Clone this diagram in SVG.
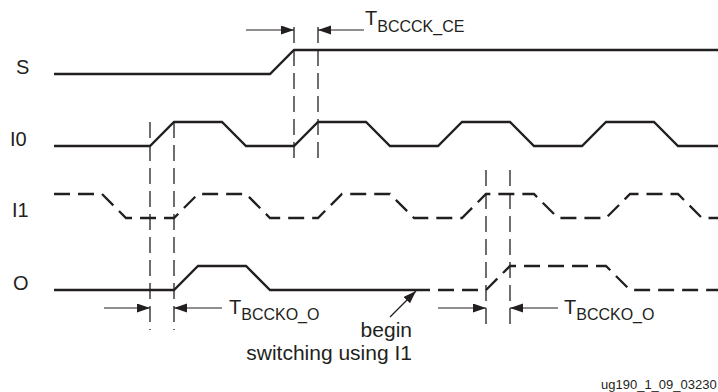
<svg xmlns="http://www.w3.org/2000/svg" width="718" height="392" viewBox="0 0 718 392">
<style>
text{font-family:"Liberation Sans",Arial,sans-serif;fill:#231f20}
.lbl{font-size:20px}
.T{font-size:20px}
.sub{font-size:16px}
.note{font-size:21px}
.sig{fill:none;stroke:#231f20;stroke-width:2.3;stroke-linejoin:miter}
.dsig{fill:none;stroke:#231f20;stroke-width:2.3;stroke-dasharray:16,8}
.vd{fill:none;stroke:#231f20;stroke-width:1.3;stroke-dasharray:16,7}
.arr{fill:none;stroke:#231f20;stroke-width:1.2;marker-end:url(#ah)}
</style>
<defs>
<marker id="ah" markerUnits="userSpaceOnUse" markerWidth="14" markerHeight="10" refX="13" refY="4.5" orient="auto">
<path d="M0,0 L13,4.5 L0,9 Z" fill="#231f20"/>
</marker>
</defs>
<g id="labels">
<text class="lbl" x="16" y="74">S</text>
<text class="lbl" x="10" y="146">I0</text>
<text class="lbl" x="12" y="217">I1</text>
<text class="lbl" x="13" y="290">O</text>
</g>
<g id="signal-S"><polyline class="sig" points="54,74 270,74 294,50 718,50"/></g>
<g id="signal-I0"><polyline class="sig" points="54,146 150,146 174,122 222,122 246,146 294,146 318,122 366,122 390,146 438,146 462,122 510,122 534,146 582,146 606,122 654,122 678,146 718,146"/></g>
<g id="signal-I1"><polyline class="dsig" points="54,194 102,194 126,218 174,218 198,194 246,194 270,218 318,218 342,194 390,194 414,218 462,218 486,194 534,194 558,218 606,218 630,194 678,194 702,218 718,218"/></g>
<g id="signal-O">
<polyline class="sig" points="54,290 174,290 198,266 246,266 270,290 430,290"/>
<polyline class="dsig" points="438,290 486,290 510,266 606,266 630,290 718,290"/>
</g>
<g id="connectors">
<line class="vd" x1="150" y1="122" x2="150" y2="330"/>
<line class="vd" x1="174" y1="122" x2="174" y2="330"/>
<line class="vd" x1="294" y1="27" x2="294" y2="163"/>
<line class="vd" x1="318" y1="27" x2="318" y2="163"/>
<line class="vd" x1="486" y1="170" x2="486" y2="330"/>
<line class="vd" x1="510" y1="170" x2="510" y2="330"/>
<line class="arr" x1="246" y1="30" x2="294" y2="30"/>
<line class="arr" x1="364" y1="30" x2="318" y2="30"/>
<line class="arr" x1="104" y1="308" x2="150" y2="308"/>
<line class="arr" x1="222" y1="308" x2="174" y2="308"/>
<line class="arr" x1="438" y1="308" x2="486" y2="308"/>
<line class="arr" x1="558" y1="308" x2="510" y2="308"/>
<line class="arr" x1="390" y1="317" x2="416" y2="291"/>
</g>
<g id="timing-labels">
<text x="365" y="25"><tspan class="T">T</tspan><tspan class="sub" y="32">BCCCK_CE</tspan></text>
<text x="229" y="314"><tspan class="T">T</tspan><tspan class="sub" y="320">BCCKO_O</tspan></text>
<text x="564" y="314"><tspan class="T">T</tspan><tspan class="sub" y="320">BCCKO_O</tspan></text>
<text class="note" x="412" y="337" text-anchor="end">begin</text>
<text class="note" x="412" y="360" text-anchor="end">switching using I1</text>
<text x="601" y="389" style="font-size:13px">ug190_1_09_03230</text>
</g>
</svg>
